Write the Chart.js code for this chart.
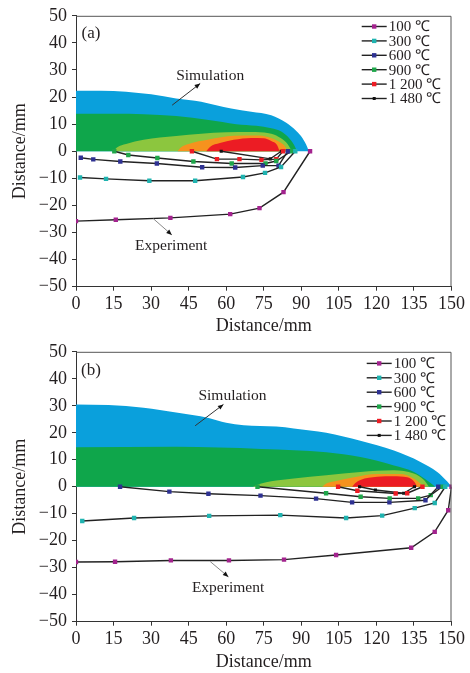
<!DOCTYPE html>
<html>
<head>
<meta charset="utf-8">
<script src="https://cdn.jsdelivr.net/npm/chart.js@4.4.1/dist/chart.umd.min.js"></script>
<style>
  body { margin: 0; background: #fff; }
  canvas { display: block; }
</style>
</head>
<body>
<canvas id="chartA" width="470" height="336"></canvas>
<canvas id="chartB" width="470" height="337"></canvas>
<script>
// legend / series names
const legendLabels = ['100 ℃', '300 ℃', '600 ℃', '900 ℃', '1 200 ℃', '1 480 ℃'];
const markerColors = ['#a3238e', '#1fb3b0', '#2e3192', '#1fa64a', '#ed1c24', '#111111'];
const simColors = ['#ec1c24', '#f6921e', '#8cc63e', '#0fa64b', '#0aa0dc']; // red, orange, light green, green, blue

// axes
const xMin = 0, xMax = 150, xStep = 15;
const yMin = -50, yMax = 50, yStep = 10;

// ---- panel (a): experiment, [x, y] in mm ----
const a100 = [[0,-25.8],[15.9,-25.3],[37.7,-24.6],[61.6,-23.2],[73.3,-21.0],[82.9,-15.1],[93.5,0]];
const a300 = [[1.6,-9.7],[12,-10.2],[29.3,-10.9],[47.6,-10.9],[66.7,-9.5],[75.5,-8.0],[81.9,-5.8],[87.6,0]];
const a600 = [[1.9,-2.4],[6.9,-3.0],[17.7,-3.8],[32.3,-4.5],[50.4,-5.9],[63.6,-6.0],[74.6,-5.3],[80.9,-5.3],[84.6,0]];
const a900 = [[15.3,0],[20.9,-1.4],[32.5,-2.5],[46.9,-3.8],[62.2,-4.5],[75.7,-4.5],[80,-3.6],[86,0]];
const a1200 = [[46.3,0],[56.3,-2.9],[65.3,-2.9],[74.1,-3.2],[80,-2.9],[82.7,0]];
const a1480 = [[58,0],[77.6,-2.8],[82,0]];

// ---- panel (a): simulation zone tops ----
const aSimRed = [[52,0],[53.5,1.6],[57.5,3.0],[63,4.2],[70,4.9],[75,4.8],[78,3.8],[80.3,2.3],[81.3,0]];
const aSimOrange = [[40.5,0],[42,1.5],[45,2.7],[53,4.3],[63,5.7],[72,5.8],[77,5.2],[81,3.6],[83.3,2],[84.5,0]];
const aSimLight = [[15,0],[16.5,1.5],[20,2.7],[27,4.2],[40,5.6],[50,6.5],[60,7],[70,7.1],[77,6.6],[81,5.3],[84,3.2],[86.3,0]];
const aSimGreen = [[0,13.8],[15,13.8],[27,13.7],[40,13],[53,11.5],[64,10],[72,9.4],[78,8.5],[82,7.3],[85,5],[87,2.5],[88.3,0]];
const aSimBlue = [[0,22.3],[10,22.3],[20,22],[30,21],[40,19.5],[50,18.3],[56,17],[62,15.8],[70,14.6],[78,13.3],[84,10.5],[88,7.5],[90.5,4.8],[92.4,1.5],[93,0]];

// ---- panel (b): experiment ----
const b100 = [[0,-27.9],[15.6,-27.8],[37.9,-27.3],[61.1,-27.3],[83.1,-27],[103.9,-25.3],[133.9,-22.6],[143.3,-16.7],[148.7,-8.7],[150,0]];
const b300 = [[2.5,-12.7],[23.2,-11.6],[53.2,-10.8],[81.6,-10.5],[107.9,-11.6],[122.3,-10.7],[135.3,-7.9],[143.3,-6.0],[147.5,0]];
const b600 = [[17.6,0],[37.3,-1.8],[52.9,-2.6],[73.7,-3.3],[95.9,-4.4],[110.3,-5.8],[125.2,-5.8],[139.6,-5.0],[144.7,0]];
const b900 = [[72.5,0],[99.9,-2.4],[113.7,-3.7],[125.3,-4.3],[136.7,-4.3],[141.7,-3.1],[146.3,0]];
const b1200 = [[104.7,0],[112.4,-1.5],[127.7,-2.5],[132.3,-2.4],[138.4,0]];
const b1480 = [[113.3,0],[119.6,-1.2],[130.9,-2.4],[135.2,0]];

// ---- panel (b): simulation zone tops ----
const bSimRed = [[110.3,0],[111.5,1.3],[113.6,2.5],[120.3,3.7],[126.9,3.9],[132.3,3.5],[135.2,1.8],[136.3,0]];
const bSimOrange = [[98.3,0],[100,1.2],[103,1.9],[111,3.5],[120.3,4.7],[129.6,4.7],[134.9,3.1],[137.5,1.3],[139,0]];
const bSimLight = [[70.7,0],[72,0.6],[80,2.3],[87,3.1],[100,4.3],[113.6,5.5],[127,6.1],[134.9,4.9],[139,2.5],[141,0]];
const bSimGreen = [[0,14.6],[40,14.8],[74,14],[100,12.8],[113.6,11],[127,7.9],[135,5.5],[141.5,1.5],[143.5,0]];
const bSimBlue = [[0,30.5],[13,30.3],[27,29.3],[40,27.5],[53,25.5],[60,23.7],[67,22.8],[80,22.3],[87,21.6],[100,20],[113.6,17],[127,13.4],[137.6,9.2],[144.3,5.5],[148.3,1.9],[150,0]];

const FONT = "'Liberation Serif', 'Times New Roman', serif";
const TEXT = '#231f20';

function arrow(ctx, x0, y0, x1, y1) {
  ctx.beginPath();
  ctx.moveTo(x0, y0);
  ctx.lineTo(x1, y1);
  ctx.stroke();
  const ang = Math.atan2(y1 - y0, x1 - x0);
  ctx.beginPath();
  ctx.moveTo(x1, y1);
  ctx.lineTo(x1 - 6 * Math.cos(ang - 0.4), y1 - 6 * Math.sin(ang - 0.4));
  ctx.lineTo(x1 - 6 * Math.cos(ang + 0.4), y1 - 6 * Math.sin(ang + 0.4));
  ctx.closePath();
  ctx.fill();
}

// frame, inside legend and the text notes
const extras = {
  id: 'extras',
  afterDatasetsDraw(chart, args, o) {
    const {ctx, chartArea: a, scales: {x, y}} = chart;
    ctx.save();
    ctx.strokeStyle = '#555';
    ctx.lineWidth = 1;
    ctx.beginPath();
    ctx.moveTo(a.left, a.top + 0.5);
    ctx.lineTo(a.right - 0.5, a.top + 0.5);
    ctx.lineTo(a.right - 0.5, a.bottom);
    ctx.stroke();

    // legend
    ctx.font = '15px ' + FONT;
    ctx.textBaseline = 'middle';
    ctx.textAlign = 'left';
    for (let i = 0; i < legendLabels.length; i++) {
      const ly = a.top + o.legendTop + i * 14.4;
      const lx = a.right - o.legendRight;
      ctx.strokeStyle = '#222';
      ctx.lineWidth = 1.4;
      ctx.beginPath();
      ctx.moveTo(lx, ly);
      ctx.lineTo(lx + o.legendLine, ly);
      ctx.stroke();
      ctx.fillStyle = markerColors[i];
      const s = i === 5 ? 3 : 4.4;
      ctx.fillRect(lx + o.legendLine / 2 - s / 2, ly - s / 2, s, s);
      ctx.fillStyle = TEXT;
      ctx.fillText(legendLabels[i], lx + o.legendLine + 2, ly + 1);
    }

    // panel tag
    ctx.font = '17px ' + FONT;
    ctx.fillText(o.tag, x.getPixelForValue(o.tagAt[0]), y.getPixelForValue(o.tagAt[1]));

    // notes with arrows
    ctx.font = '15.5px ' + FONT;
    ctx.fillText('Simulation', x.getPixelForValue(o.simText[0]), y.getPixelForValue(o.simText[1]));
    ctx.fillText('Experiment', x.getPixelForValue(o.expText[0]), y.getPixelForValue(o.expText[1]));
    ctx.strokeStyle = '#333';
    ctx.fillStyle = '#111';
    ctx.lineWidth = 1;
    arrow(ctx, x.getPixelForValue(o.simArrow[0]), y.getPixelForValue(o.simArrow[1]),
      x.getPixelForValue(o.simArrow[2]), y.getPixelForValue(o.simArrow[3]));
    ctx.strokeStyle = '#888';
    arrow(ctx, x.getPixelForValue(o.expArrow[0]), y.getPixelForValue(o.expArrow[1]),
      x.getPixelForValue(o.expArrow[2]), y.getPixelForValue(o.expArrow[3]));
    ctx.restore();
  }
};

function makeChart(id, series, sims, layout, notes) {
  const datasets = [];
  series.forEach((pts, i) => {
    datasets.push({
      label: legendLabels[i],
      data: pts,
      borderColor: '#222',
      borderWidth: 1.4,
      pointStyle: 'rect',
      pointRadius: i === 5 ? 2.2 : 3.1,
      pointBackgroundColor: markerColors[i],
      pointBorderWidth: 0,
      fill: false,
      tension: 0,
    });
  });
  sims.forEach((pts, i) => {
    datasets.push({
      label: 'sim',
      data: pts,
      borderColor: 'rgba(0,0,0,0)',
      borderWidth: 0,
      pointRadius: 0,
      fill: 'origin',
      backgroundColor: simColors[i],
      cubicInterpolationMode: 'monotone',
    });
  });

  return new Chart(document.getElementById(id), {
    type: 'line',
    data: { datasets: datasets },
    options: {
      responsive: false,
      animation: false,
      events: [],
      layout: { padding: { left: 10, right: 18.5, top: layout.top, bottom: 0 } },
      plugins: {
        legend: { display: false },
        tooltip: { enabled: false },
        extras: notes,
      },
      scales: {
        x: {
          type: 'linear',
          min: xMin, max: xMax,
          afterFit: (s) => { s.height = layout.xHeight; },
          ticks: { stepSize: xStep, padding: 3, color: TEXT, font: { family: FONT, size: 18 } },
          grid: { display: true, drawOnChartArea: false, tickLength: 4, color: '#333' },
          border: { color: '#333' },
          title: { display: true, text: 'Distance/mm', color: TEXT, font: { family: FONT, size: 18, lineHeight: 1 }, padding: { top: 0, bottom: layout.titlePad } },
        },
        y: {
          min: yMin, max: yMax,
          afterFit: (s) => { s.width = 66; },
          ticks: { stepSize: yStep, padding: 5, color: TEXT, font: { family: FONT, size: 18 },
            callback: (v) => String(v).replace('-', '\u2212') },
          grid: { display: true, drawOnChartArea: false, tickLength: 4, color: '#333' },
          border: { color: '#333' },
          title: { display: true, text: 'Distance/mm', color: TEXT, font: { family: FONT, size: 18, lineHeight: 1 }, padding: { top: 1, bottom: 0 } },
        },
      },
    },
    plugins: [extras],
  });
}

makeChart('chartA',
  [a100, a300, a600, a900, a1200, a1480],
  [aSimRed, aSimOrange, aSimLight, aSimGreen, aSimBlue],
  { top: 12, xHeight: 49.3, titlePad: 0.3 },
  { legendTop: 10.7, legendRight: 89.8, legendLine: 25, tag: '(a)', tagAt: [2.2, 43.3],
    simText: [40, 27.9], simArrow: [38.4, 17, 49.6, 25],
    expText: [23.6, -34.9], expArrow: [30.9, -24.9, 38.3, -30.9] });

makeChart('chartB',
  [b100, b300, b600, b900, b1200, b1480],
  [bSimRed, bSimOrange, bSimLight, bSimGreen, bSimBlue],
  { top: 10.8, xHeight: 51.3, titlePad: 2 },
  { legendTop: 11.6, legendRight: 84.8, legendLine: 25, tag: '(b)', tagAt: [2, 43.1],
    simText: [48.9, 33.5], simArrow: [47.6, 22.6, 58.9, 30.5],
    expText: [46.3, -37.4], expArrow: [53.6, -27.7, 60.9, -33.4] });
</script>
</body>
</html>
